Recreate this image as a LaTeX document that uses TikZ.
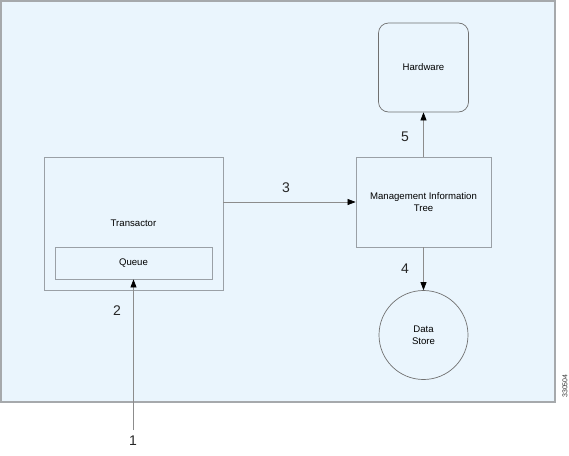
\documentclass[tikz,border=0pt]{standalone}
\usepackage{fontspec}
\setmainfont{Liberation Sans}
\usetikzlibrary{arrows.meta}
\definecolor{panelfill}{HTML}{EAF5FD}
\definecolor{panelline}{HTML}{A6A9AC}
\definecolor{boxline}{HTML}{9AA0A6}
\definecolor{darkline}{HTML}{707070}
\definecolor{arrline}{HTML}{8C8C8C}
\tikzset{
  box/.style={draw=boxline, line width=0.8pt, inner sep=0pt, font=\fontsize{9.6}{12}\selectfont},
  darkbox/.style={draw=darkline, line width=0.7pt, inner sep=0pt, font=\fontsize{9.6}{12}\selectfont},
  flow/.style={draw=arrline, line width=0.7pt, -{Triangle[length=8pt,width=6pt,color=black,fill=black]}},
  num/.style={font=\fontsize{14}{16}\selectfont, text=black!85}
}
\begin{document}
\begin{tikzpicture}[x=1pt,y=-1pt]
\useasboundingbox (0,0) rectangle (569,455);
\fill[panelfill] (1,1) rectangle (555,402);
\draw[panelline, line width=1.1pt] (1,1) rectangle (555,402);
\node[box, minimum width=179pt, minimum height=133pt] (trans) at (133.5,223.5) {Transactor};
\node[box, minimum width=157pt, minimum height=32pt] (queue) at (133.5,263) {Queue};
\node[box, minimum width=135pt, minimum height=90pt, align=center] (mit) at (423.5,202) {Management Information\\Tree};
\node[darkbox, rounded corners=10pt, minimum width=90pt, minimum height=89pt] (hw) at (423.5,67.5) {Hardware};
\node[darkbox, circle, minimum size=89pt, align=center] (ds) at (423.5,335) {Data\\Store};
\coordinate (start) at (133.5,430);
\draw[flow] (start) -- (queue.south);
\draw[flow] (mit.west -| trans.east) -- (mit.west);
\draw[flow] (mit.south) -- (ds.north);
\draw[flow] (mit.north) -- (hw.south);
\node[num] (l1) at (133,441) {1};
\node[num] (l2) at (117,311) {2};
\node[num] (l3) at (286,188) {3};
\node[num] (l4) at (405,269) {4};
\node[num] (l5) at (405,137) {5};
\node[rotate=90, font=\fontsize{7}{8}\selectfont, text=black!80] (code) at (565,386) {330504};
\end{tikzpicture}
\end{document}
